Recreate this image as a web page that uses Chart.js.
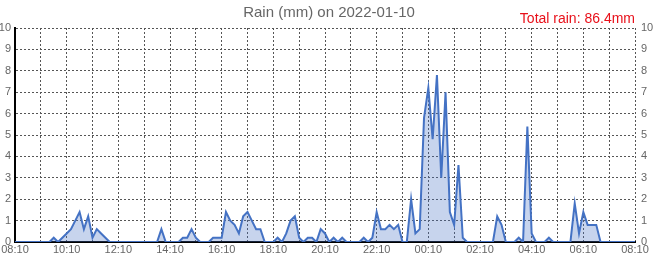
<!DOCTYPE html>
<html>
<head>
<meta charset="utf-8">
<title>Rain (mm) on 2022-01-10</title>
<script src="https://cdn.jsdelivr.net/npm/chart.js@4/dist/chart.umd.min.js"></script>
<style>
    body { margin: 0; background: #fff; }
    #wrap { width: 658px; height: 262px; }
</style>
</head>
<body>
<div id="wrap"><canvas id="rainChart" width="658" height="262"></canvas></div>
<script>
// Pluie sur 10 minutes, de 08:10 à 08:10 le lendemain
const chartTitle = 'Rain (mm) on 2022-01-10';
const totalLabel = 'Total rain: 86.4mm';

const startMinutes = 8 * 60 + 10;
const stepMinutes = 10;

const rainValues = [
    0, 0, 0, 0, 0, 0, 0, 0, 0, 0.2,
    0, 0.2, 0.4, 0.6, 1.0, 1.4, 0.6, 1.2, 0.2, 0.6,
    0.4, 0.2, 0, 0, 0, 0, 0, 0, 0, 0,
    0, 0, 0, 0, 0.6, 0, 0, 0, 0, 0.2,
    0.2, 0.6, 0.2, 0, 0, 0, 0.2, 0.2, 0.2, 1.4,
    1.0, 0.8, 0.4, 1.2, 1.4, 1.0, 0.6, 0.6, 0, 0,
    0, 0.2, 0, 0.4, 1.0, 1.2, 0.2, 0, 0.2, 0.2,
    0, 0.6, 0.4, 0, 0.2, 0, 0.2, 0, 0, 0,
    0, 0.2, 0, 0.2, 1.4, 0.6, 0.6, 0.8, 0.6, 0.8,
    0, 0, 2.0, 0.4, 0.6, 5.8, 7.2, 4.8, 7.8, 3.0,
    7.0, 1.4, 0.8, 3.6, 0.2, 0, 0, 0, 0, 0,
    0, 0, 1.2, 0.8, 0, 0, 0, 0.2, 0, 5.4,
    0.4, 0, 0, 0, 0.2, 0, 0, 0, 0, 0,
    1.8, 0.4, 1.4, 0.8, 0.8, 0.8, 0, 0, 0, 0,
    0, 0, 0, 0, 0
];

// Heures affichées sous l'axe (toutes les 2 heures)
const xTickLabels = ['08:10', '10:10', '12:10', '14:10', '16:10', '18:10', '20:10',
    '22:10', '00:10', '02:10', '04:10', '06:10', '08:10'];
const yTickValues = [0, 1, 2, 3, 4, 5, 6, 7, 8, 9, 10];

function timeLabel(minutes) {
    const m = minutes % 1440;
    const hh = String(Math.floor(m / 60)).padStart(2, '0');
    const mm = String(m % 60).padStart(2, '0');
    return `${hh}:${mm}`;
}

const timeLabels = rainValues.map((v, i) => timeLabel(startMinutes + i * stepMinutes));

const gridColor = '#555';
const textColor = '#666';
const fontFamily = '"Liberation Sans", Arial, sans-serif';

// Titre et total dessinés au-dessus du graphique
const headerPlugin = {
    id: 'header',
    afterDraw(chart) {
        const ctx = chart.ctx;
        ctx.save();
        ctx.textBaseline = 'middle';
        ctx.font = `15px ${fontFamily}`;
        ctx.fillStyle = textColor;
        ctx.textAlign = 'center';
        ctx.fillText(chartTitle, chart.width / 2, 13);
        ctx.font = `14px ${fontFamily}`;
        ctx.fillStyle = '#e8101a';
        ctx.textAlign = 'right';
        ctx.fillText(totalLabel, chart.chartArea.right, 19);
        ctx.restore();
    }
};

const ctx = document.getElementById('rainChart').getContext('2d');

new Chart(ctx, {
    type: 'line',
    data: {
        labels: timeLabels,
        datasets: [{
            label: 'Rain (mm)',
            data: rainValues,
            borderColor: 'rgb(68, 114, 196)',
            backgroundColor: 'rgba(68, 114, 196, 0.3)',
            borderWidth: 2,
            tension: 0,
            pointRadius: 0,
            fill: 'origin',
            yAxisID: 'y'
        }]
    },
    options: {
        responsive: false,
        animation: false,
        layout: { padding: { top: 28, left: 0, right: 0, bottom: 0 } },
        plugins: {
            legend: { display: false },
            title: { display: false },
            tooltip: { enabled: false }
        },
        scales: {
            x: {
                offset: false,
                afterFit: (scale) => { scale.height = 20; },
                grid: {
                    drawTicks: false,
                    color: (c) => (c.index % 6 === 0 ? gridColor : 'transparent')
                },
                border: { display: true, color: '#000', width: 2, dash: [2, 2] },
                ticks: {
                    autoSkip: false,
                    maxRotation: 0,
                    padding: 1,
                    color: textColor,
                    font: { family: fontFamily, size: 11 },
                    callback: (val, i) => (i % 12 === 0 ? xTickLabels[i / 12] : '')
                }
            },
            y: {
                position: 'left',
                min: 0,
                max: 10,
                afterFit: (scale) => { scale.width = 15; },
                afterBuildTicks: (scale) => { scale.ticks = yTickValues.map(v => ({ value: v })); },
                grid: { drawTicks: false, color: gridColor },
                border: { display: true, color: '#000', width: 2, dash: [2, 2] },
                ticks: {
                    padding: 4,
                    color: textColor,
                    font: { family: fontFamily, size: 11 }
                }
            },
            y2: {
                position: 'right',
                min: 0,
                max: 10,
                afterFit: (scale) => { scale.width = 23; },
                afterBuildTicks: (scale) => { scale.ticks = yTickValues.map(v => ({ value: v })); },
                grid: { drawOnChartArea: false, drawTicks: false },
                border: { display: false },
                ticks: {
                    padding: 6,
                    color: textColor,
                    font: { family: fontFamily, size: 11 }
                }
            }
        }
    },
    plugins: [headerPlugin]
});
</script>
</body>
</html>
